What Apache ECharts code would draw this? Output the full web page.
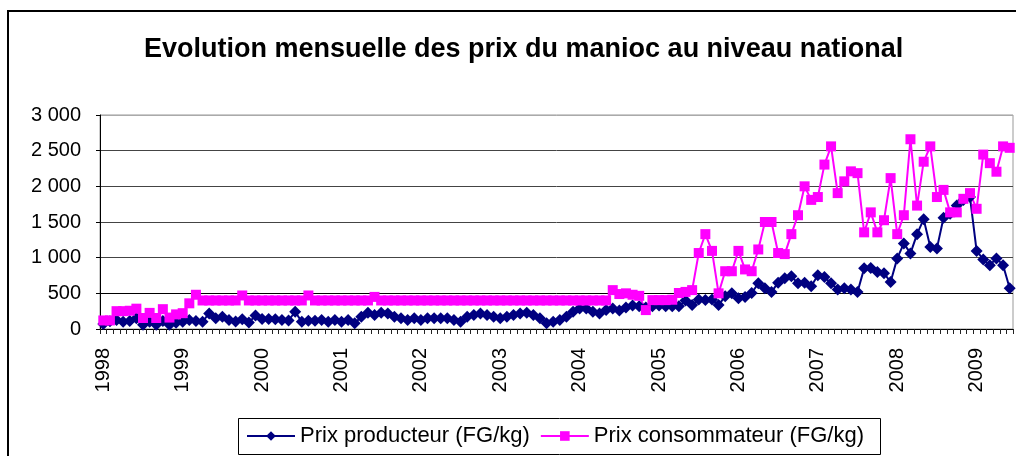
<!DOCTYPE html>
<html><head><meta charset="utf-8">
<script src="https://cdn.jsdelivr.net/npm/echarts@6/dist/echarts.min.js"></script>
<style>html,body{margin:0;padding:0;background:#fff}#c{width:1016px;height:456px}</style>
</head><body><div id="c"></div>
<script>
const years = ['1998','1999','2000','2001','2002','2003','2004','2005','2006','2007','2008','2009'];
const seriesNames = ['Prix producteur (FG/kg)', 'Prix consommateur (FG/kg)'];
const titleText = 'Evolution mensuelle des prix du manioc au niveau national';
const yTickValues = [0, 500, 1000, 1500, 2000, 2500, 3000];

// Monthly values, Jan 1998 .. Jun 2009
const producteur = [
  70, 110, 126, 102, 112, 150, 60, 102, 60, 112, 60, 88,
  102, 126, 112, 102, 219, 150, 170, 125, 105, 135, 90, 190,
  140, 140, 135, 125, 120, 242, 100, 116, 116, 126, 102, 126,
  102, 126, 80, 172, 228, 196, 228, 219, 172, 150, 126, 150,
  126, 150, 150, 150, 150, 126, 102, 172, 196, 219, 196, 172,
  150, 172, 196, 219, 228, 196, 150, 80, 102, 126, 172, 242,
  289, 289, 242, 219, 265, 289, 260, 300, 330, 320, 300, 320,
  330, 320, 320, 320, 400, 335, 415, 405, 415, 335, 460, 500,
  430, 450, 505, 640, 570, 520, 650, 710, 740, 640, 650, 600,
  755, 730, 640, 555, 570, 555, 520, 850, 855, 800, 780, 660,
  990, 1200, 1060, 1330, 1540, 1150, 1130, 1560, 1615, 1730, 1810, 1850,
  1095, 975, 895, 990, 895, 570
];
const consommateur = [
  120, 120, 250, 250, 256, 285, 154, 226, 154, 278, 160, 205,
  222, 360, 480, 400, 400, 400, 400, 400, 400, 470, 400, 400,
  400, 400, 400, 400, 400, 400, 400, 470, 400, 400, 400, 400,
  400, 400, 400, 400, 400, 450, 400, 400, 400, 400, 400, 400,
  400, 400, 400, 400, 400, 400, 400, 400, 400, 400, 400, 400,
  400, 400, 400, 400, 400, 400, 400, 400, 400, 400, 400, 400,
  400, 400, 400, 400, 400, 545, 490, 500, 480, 465, 265, 405,
  405, 405, 410, 505, 520, 545, 1065, 1330, 1095, 500, 810, 810,
  1095, 835, 810, 1115, 1500, 1500, 1065, 1050, 1330, 1595, 2000, 1810,
  1850, 2305, 2560, 1905, 2070, 2210, 2185, 1355, 1635, 1355, 1525, 2115,
  1330, 1595, 2660, 1730, 2345, 2560, 1850, 1950, 1635, 1635, 1825, 1905,
  1685, 2445, 2325, 2205, 2560, 2540
];

const categories = [];
years.forEach(y => { for (let m = 1; m <= 12; m++) categories.push(y + '-' + String(m).padStart(2, '0')); });
categories.length = producteur.length;

const FONT = '"Liberation Sans", Arial, sans-serif';
const fmt = v => String(v).replace(/\B(?=(\d{3})+(?!\d))/g, ' ');

const chart = echarts.init(document.getElementById('c'), null, {renderer: 'canvas'});
chart.setOption({
  animation: false,
  backgroundColor: '#fff',
  title: {
    text: titleText, left: 139, top: 31,
    textStyle: {fontFamily: FONT, fontSize: 27, fontWeight: 'bold', color: '#000'}
  },
  graphic: [
    {type: 'rect', z: -1, shape: {x: 8, y: 11, width: 1030, height: 470}, style: {fill: 'none', stroke: '#000', lineWidth: 2}},
    {type: 'rect', z: -1, shape: {x: 238.5, y: 418.5, width: 642, height: 36}, style: {fill: '#fff', stroke: '#000', lineWidth: 1}}
  ],
  legend: {
    left: 246, top: 425, padding: 0, itemGap: 10, itemWidth: 48, itemHeight: 12,
    textStyle: {fontFamily: FONT, fontSize: 22, color: '#000'},
    data: seriesNames
  },
  grid: {left: 100, right: 3, top: 115, bottom: 127, show: true, borderColor: '#999', borderWidth: 1},
  xAxis: {
    type: 'category', data: categories, boundaryGap: true,
    axisLine: {lineStyle: {color: '#000', width: 1}},
    axisTick: {show: true, interval: 0, length: 5, lineStyle: {color: '#222'}},
    axisLabel: {
      interval: (i, v) => v.endsWith('-01'),
      formatter: v => v.slice(0, 4),
      rotate: 90, margin: 19, fontFamily: FONT, fontSize: 20, color: '#000'
    },
    splitLine: {show: false}
  },
  yAxis: {
    type: 'value', min: yTickValues[0], max: yTickValues[yTickValues.length - 1], interval: 500,
    axisLine: {show: true, lineStyle: {color: '#000', width: 1}},
    axisTick: {show: true, length: 4, lineStyle: {color: '#000'}},
    axisLabel: {formatter: fmt, fontFamily: FONT, fontSize: 20, color: '#000', margin: 19},
    splitLine: {show: true, lineStyle: {color: ['#000', '#000', '#444', '#444', '#444', '#444', '#aaa'], width: 1}}
  },
  series: [
    {
      name: seriesNames[0], type: 'line', data: producteur,
      symbol: 'diamond', symbolSize: 12, showAllSymbol: true,
      itemStyle: {color: '#000080'}, lineStyle: {color: '#000080', width: 2}
    },
    {
      name: seriesNames[1], type: 'line', data: consommateur,
      symbol: 'rect', symbolSize: 10, showAllSymbol: true,
      itemStyle: {color: '#FF00FF'}, lineStyle: {color: '#FF00FF', width: 2}
    }
  ]
});
</script></body></html>
